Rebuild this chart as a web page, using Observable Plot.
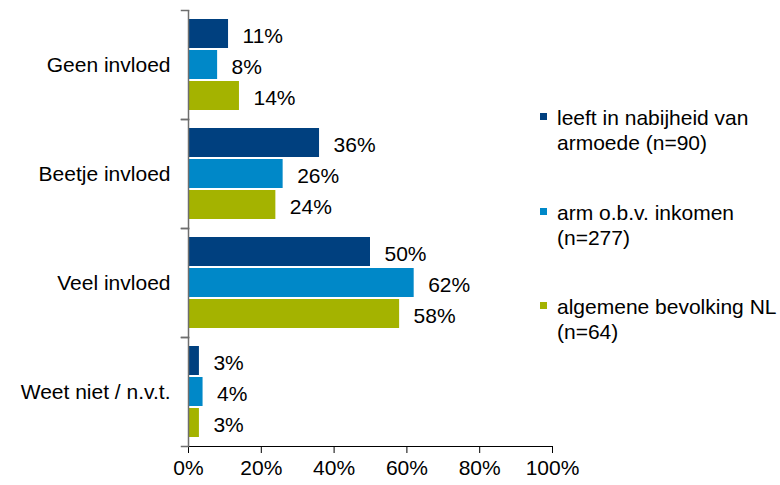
<!DOCTYPE html>
<html>
<head>
<meta charset="utf-8">
<script src="https://cdn.jsdelivr.net/npm/d3@7"></script>
<script src="https://cdn.jsdelivr.net/npm/@observablehq/plot@0.6"></script>
<style>
  body { margin: 0; background: #fff; font-family: "Liberation Sans", Arial, sans-serif; }
  #wrap { position: relative; width: 780px; height: 485px; }
  #legend { position: absolute; left: 540px; top: 0; font-size: 21px; line-height: 25px; color: #000; }
  .item { position: absolute; left: 0; padding-left: 17px; white-space: nowrap; }
  .sw { position: absolute; left: 0; top: 8px; width: 7px; height: 7px; }
  svg [aria-label="x-axis tick"], svg [aria-label="x-axis line"] { stroke: #6e6e6e; }
</style>
</head>
<body>
<div id="wrap"><div id="chart"></div><div id="legend"></div></div>
<script>
const categories = ["Geen invloed", "Beetje invloed", "Veel invloed", "Weet niet / n.v.t."];
const seriesNames = ["leeft in nabijheid van armoede (n=90)", "arm o.b.v. inkomen (n=277)", "algemene bevolking NL (n=64)"];
const legendLines = [["leeft in nabijheid van", "armoede (n=90)"], ["arm o.b.v. inkomen", "(n=277)"], ["algemene bevolking NL", "(n=64)"]];
const colors = ["#00407F", "#0088C8", "#A4B300"];
const nabijheid = [11, 36, 50, 3];
const armInkomen = [8, 26, 62, 4];
const algemeen = [14, 24, 58, 3];
const xTicks = [0, 20, 40, 60, 80, 100];

const seriesValues = [nabijheid, armInkomen, algemeen];
const data = [];
categories.forEach((c, i) => {
  seriesNames.forEach((s, j) => {
    data.push({cat: c, series: s, value: seriesValues[j][i]});
  });
});

const innerW = 364;
const chart = Plot.plot({
  width: 780,
  height: 485,
  marginLeft: 188,
  marginRight: 228,
  marginTop: 8,
  marginBottom: 38,
  style: {fontFamily: "Liberation Sans, Arial, sans-serif", fontSize: "21px", color: "#000", background: "#fff"},
  x: {domain: [0, 100], ticks: xTicks, tickFormat: d => d + "%", tickSize: 7, tickPadding: 7, label: null, line: true},
  y: {domain: seriesNames, axis: null, paddingInner: 0.07, paddingOuter: 0.28},
  fy: {domain: categories, label: null, tickSize: 0, tickPadding: 18, padding: 0},
  color: {domain: seriesNames, range: colors},
  marks: [
    Plot.barX(data, {x: "value", y: "series", fy: "cat", fill: "series"}),
    Plot.text(data, {x: "value", y: "series", fy: "cat", text: d => d.value + "%", textAnchor: "start", dx: 14, dy: 2, fontSize: 21, fill: "#000"}),
    Plot.ruleX([0], {stroke: "#6e6e6e", strokeWidth: 1.5}),
    Plot.frame({anchor: "top", insetLeft: -7, insetRight: innerW, stroke: "#6e6e6e", strokeWidth: 1.5}),
    Plot.frame({anchor: "bottom", insetLeft: -7, insetRight: innerW, stroke: "#6e6e6e", strokeWidth: 1.5})
  ]
});
document.getElementById("chart").appendChild(chart);

const legend = document.getElementById("legend");
const tops = [105, 200, 294];
legendLines.forEach((lines, j) => {
  const it = document.createElement("div");
  it.className = "item";
  it.style.top = tops[j] + "px";
  const sw = document.createElement("span");
  sw.className = "sw";
  sw.style.background = colors[j];
  it.appendChild(sw);
  lines.forEach(l => {
    const d = document.createElement("div");
    d.textContent = l;
    it.appendChild(d);
  });
  legend.appendChild(it);
});
</script>
</body>
</html>
